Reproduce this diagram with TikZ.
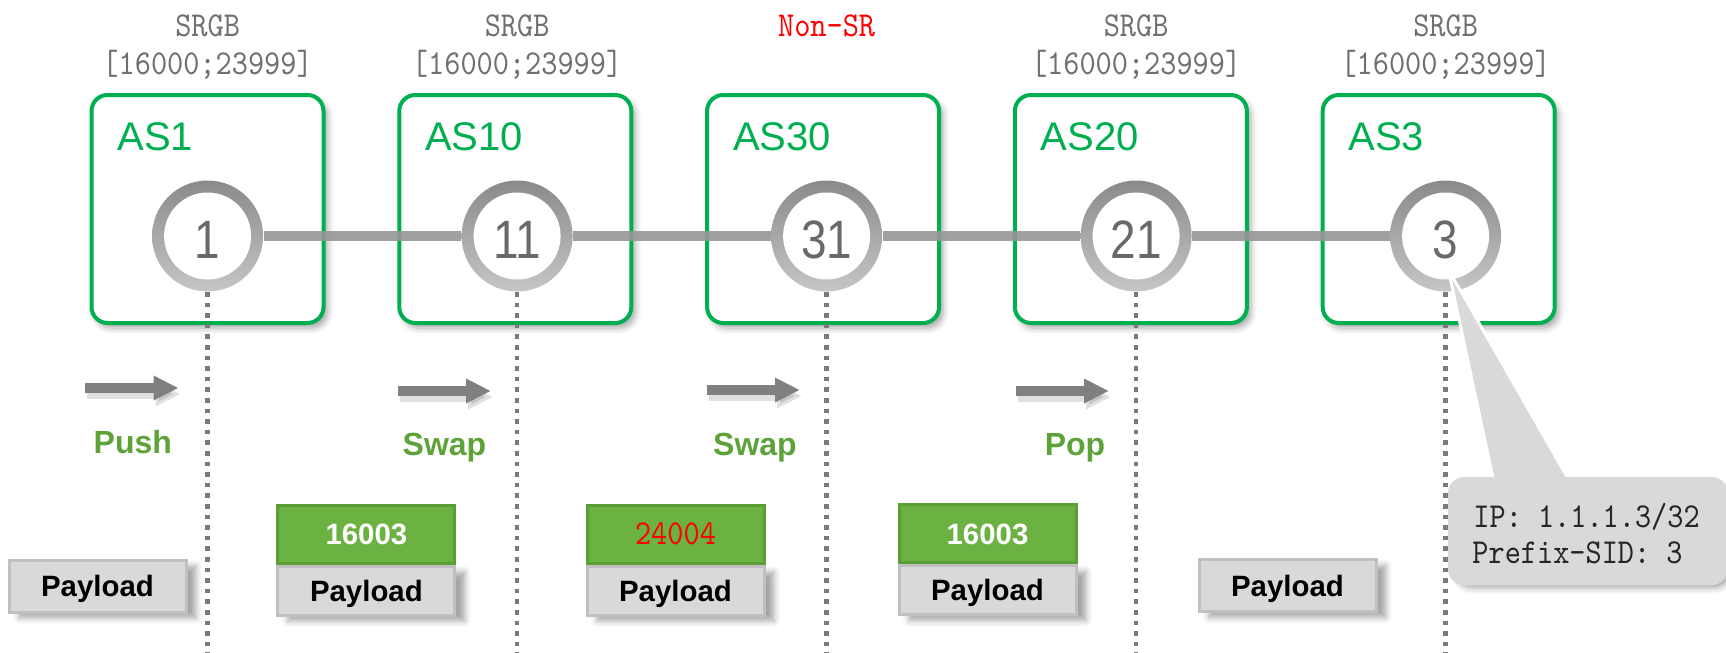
\documentclass[tikz,border=0pt]{standalone}
\usepackage{fontspec}
\setmainfont{Liberation Sans}
\newfontfamily\simfont[FakeStretch=0.88]{lmmono10-regular.otf}
\newfontfamily\digitfont[FakeStretch=0.85]{Liberation Sans}
\usetikzlibrary{arrows.meta,shadows.blur}

\definecolor{asgreen}{RGB}{0,176,80}
\definecolor{opgreen}{RGB}{94,163,58}
\definecolor{labfill}{RGB}{108,178,66}
\definecolor{labedge}{RGB}{92,158,54}
\definecolor{payfill}{RGB}{217,217,217}
\definecolor{payedge}{RGB}{192,192,192}
\definecolor{ringtop}{RGB}{138,138,138}
\definecolor{ringbot}{RGB}{198,198,198}
\definecolor{linkgray}{RGB}{150,150,150}
\definecolor{dotgray}{RGB}{122,122,122}
\definecolor{txtgray}{RGB}{112,112,112}
\definecolor{numgray}{RGB}{105,105,105}
\definecolor{arrowgray}{RGB}{128,128,128}

\begin{document}
\begin{tikzpicture}[x=0.5pt,y=-0.5pt,
  softshadow/.style={blur shadow={shadow xshift=2pt,shadow yshift=-2.5pt,shadow blur radius=3pt,shadow opacity=35}},
  asbox/.style={draw=asgreen,line width=2pt,rounded corners=8pt,fill=white,
    minimum width=116pt,minimum height=114pt,inner sep=0,softshadow},
  aslabel/.style={text=asgreen,font=\fontsize{20}{20}\selectfont,anchor=base west,inner sep=0},
  ringout/.style={circle,inner sep=0,minimum size=55.5pt,top color=ringtop,bottom color=ringbot},
  ringin/.style={circle,inner sep=0,minimum size=43.5pt,fill=white},
  numtext/.style={text=numgray,font=\digitfont\fontsize{27}{27}\selectfont,inner sep=0},
  link/.style={draw=linkgray,line width=5pt,opacity=0.9},
  vline/.style={draw=dotgray,line width=2.3pt,dash pattern=on 2.3pt off 3pt},
  simtext/.style={text=txtgray,font=\simfont\fontsize{17.5}{17.5}\selectfont,anchor=base,inner sep=0},
  oparrow/.style={draw=arrowgray,line width=5pt,-{Triangle[length=12.5pt,width=11.5pt]}},
  arrowshade/.style={draw=black,opacity=0.12,line width=5pt,-{Triangle[length=12.5pt,width=11.5pt]}},
  oplabel/.style={text=opgreen,font=\bfseries\fontsize{16}{16}\selectfont,anchor=base,inner sep=0},
  paybox/.style={draw=payedge,fill=payfill,line width=1.5pt,minimum width=88.5pt,minimum height=24.5pt,
    text height=10.5pt,text depth=0pt,inner sep=0,font=\bfseries\fontsize{14.7}{14.7}\selectfont,
    blur shadow={shadow xshift=5pt,shadow yshift=-3pt,shadow blur radius=3pt,shadow opacity=35}},
  labbox/.style={draw=labedge,fill=labfill,line width=1.5pt,minimum width=88.5pt,minimum height=29pt,
    text height=10.5pt,text depth=0pt,inner sep=0,text=white,font=\bfseries\fontsize{14.7}{14.7}\selectfont},
  callbox/.style={draw=white,fill=payfill,line width=3pt,rounded corners=8pt,
    minimum width=137pt,minimum height=51pt,inner sep=0,
    blur shadow={shadow xshift=2.5pt,shadow yshift=-3pt,shadow blur radius=3pt,shadow opacity=35}},
]
\useasboundingbox (0,0) rectangle (1726,653);
\coordinate (bot) at (0,653);
\coordinate (yS) at (0,36);
\coordinate (yR) at (0,75);

% autonomous systems
\foreach \i/\bx/\name in {1/207.5/AS1,2/515.3/AS10,3/823.1/AS30,4/1130.9/AS20,5/1438.7/AS3}{
  \node[asbox] (b\i) at (\bx,209) {};
  \node[aslabel] (t\i) at (\bx-90.5,150) {\name};
}

% routers
\foreach \i/\cx/\num in {1/207.6/1,2/517.1/11,3/826.6/31,4/1136.1/21,5/1445.6/3}{
  \node[ringout] (c\i) at (\cx,236) {};
  \node[ringin] (n\i) at (c\i) {};
  \node[numtext] (d\i) at ([yshift=-2pt]c\i.center) {\num};
}

% inter-AS links
\foreach \a/\b in {1/2,2/3,3/4,4/5}{
  \draw[link] (c\a) -- (c\b);
}

% per-hop guide lines
\foreach \i in {1,...,5}{
  \draw[vline] (c\i.south) -- (c\i.south |- bot);
}

% SRGB of each AS
\foreach \i in {1,2,4,5}{
  \node[simtext] (s\i) at (c\i |- yS) {SRGB};
  \node[simtext] (r\i) at (c\i |- yR) {[16000;23999]};
}
\node[simtext,text=red] (s3) at (c3 |- yS) {Non-SR};

% label operations
\foreach \i/\xa/\xb/\ya in {1/85/178.6/388,2/398/491/391,3/707/800/390,4/1016/1109/391}{
  \coordinate (as\i) at (\xa,\ya);
  \coordinate (ae\i) at (\xb,\ya);
  \draw[arrowshade] ([shift={(1pt,-3pt)}]as\i) -- ([shift={(1pt,-3pt)}]ae\i);
  \draw[oparrow] (as\i) -- (ae\i);
}
\node[oplabel] (o1) at (132.8,453) {Push};
\node[oplabel] (o2) at (444.5,455) {Swap};
\node[oplabel] (o3) at (755,455) {Swap};
\node[oplabel] (o4) at (1075,455) {Pop};

% packets on each hop
\node[paybox,minimum height=26pt] (p1) at (97.5,586) {Payload};

\node[labbox] (g2) at (366.4,534) {16003};
\node[paybox,anchor=north] (p2) at (g2.south) {Payload};

\node[labbox,text=red,font=\simfont\fontsize{17.5}{17.5}\selectfont] (g3) at (675.5,534) {24004};
\node[paybox,anchor=north] (p3) at (g3.south) {Payload};

\node[labbox] (g4) at (987.5,533.5) {16003};
\node[paybox,anchor=north] (p4) at (g4.south) {Payload};

\node[paybox,minimum height=26pt] (p5) at (1287.5,585.5) {Payload};

% prefix-SID callout
\node[callbox] (cb) at (1588,531) {};
\coordinate (tip) at (1452,279);
\coordinate (bl) at (1497.6,492);
\coordinate (br) at (1573.9,492);
\draw[white,line width=3pt,line join=round] (tip) -- (bl) -- (br) -- cycle;
\fill[payfill,rounded corners=8pt] (cb.north west) rectangle (cb.south east);
\fill[payfill] (tip) -- (bl) -- (br) -- cycle;
\node[simtext,text=black!85,anchor=base west] (ip) at (1473,527) {IP: 1.1.1.3/32};
\node[simtext,text=black!85,anchor=base west] (sid) at (1472,563) {Prefix-SID: 3};
\end{tikzpicture}
\end{document}
